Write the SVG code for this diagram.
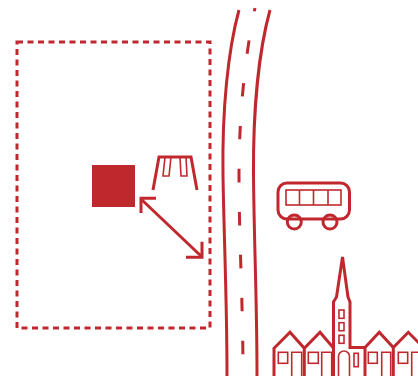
<svg xmlns="http://www.w3.org/2000/svg" width="418" height="376" viewBox="0 0 418 376">
  <style>
    .ink { fill: none; stroke: #c0282e; stroke-width: 3; }
    .thin { fill: none; stroke: #c0282e; stroke-width: 1.6; }
    .solid { fill: #bf292e; }
  </style>
  <rect width="418" height="376" fill="#ffffff"/>

  <!-- site boundary -->
  <g id="site">
    <rect x="17" y="42" width="193" height="286" class="ink" stroke-dasharray="6 4.5"/>
  </g>

  <!-- building block -->
  <g id="building">
    <rect x="92" y="165" width="43" height="42" class="solid"/>
  </g>

  <!-- playground swing -->
  <g id="swing">
    <path class="ink" stroke-width="2.5" d="M153,190 L159,157 H191 L197,190"/>
    <path class="thin" d="M165,157 L163,176 H169 L171,157"/>
    <path class="thin" d="M180,157 L181,176 H187 L186,157"/>
  </g>

  <!-- road -->
  <g id="road">
    <path class="ink" d="M239,10 C228,50 222,110 223,175 C224,240 227,300 227,376"/>
    <path class="ink" d="M270,10 C259,50 253,110 253.5,175 C254,240 257,300 257,376"/>
    <path class="ink" d="M255,8 C246,50 239,110 239,175 C239,240 243,300 243,376" stroke-dasharray="13.5 29.5" stroke-dashoffset="10"/>
  </g>

  <!-- bus -->
  <g id="bus">
    <rect x="278" y="183" width="71.5" height="36" rx="9" class="ink"/>
    <rect x="286" y="190" width="55" height="15" class="thin"/>
    <path class="thin" d="M299.5,190 V205 M313.5,190 V205 M328,190 V205"/>
    <circle cx="294.3" cy="222" r="7" class="ink" fill="#ffffff"/>
    <circle cx="330" cy="222" r="7" class="ink" fill="#ffffff"/>
  </g>

  <!-- village with church -->
  <g id="village">
    <path class="ink" d="M274,376 V348.3 L290,332.3 L304.3,348.3 L320,332.3 L333.5,348 M304.3,348.3 V376"/>
    <path class="ink" d="M333.5,376 V302 L336.5,297 L342.5,257 L348,297 L350,302 V347.5 H365 L379.3,332.3 L393.3,347.5 L408.3,332.3 L420,344 M365,347.5 V376 M393.3,347.5 V376"/>
    <!-- tower openings -->
    <rect x="339" y="310" width="5" height="8.3" class="thin"/>
    <rect x="339" y="322.7" width="5" height="8" class="thin"/>
    <rect x="339" y="335.3" width="5" height="8" class="thin"/>
    <path class="thin" d="M338.5,376 V356.5 A5.5,5.5 0 0 1 349.5,356.5 V376"/>
    <rect x="354" y="353.3" width="4.3" height="13.4" class="thin"/>
    <!-- house windows and doors -->
    <rect x="278.3" y="352.3" width="9.4" height="11" class="thin"/>
    <path class="thin" d="M291.7,376 V352.3 H301.7 V376"/>
    <rect x="308.3" y="352.3" width="10" height="11" class="thin"/>
    <path class="thin" d="M321.7,376 V352.3 H331.7 V376"/>
    <rect x="368.3" y="352.3" width="9" height="11" class="thin"/>
    <path class="thin" d="M381.7,376 V352.3 H390.7 V376"/>
    <rect x="398.3" y="352.3" width="9.4" height="11" class="thin"/>
    <path class="thin" d="M411.7,376 V352.3 H420"/>
  </g>

  <!-- connectors -->
  <g id="connectors">
    <path class="ink" d="M142,200 L201,256"/>
    <path class="ink" d="M156,198.3 H141 V213"/>
    <path class="ink" d="M186,257.3 H202 V241.7"/>
  </g>
</svg>
